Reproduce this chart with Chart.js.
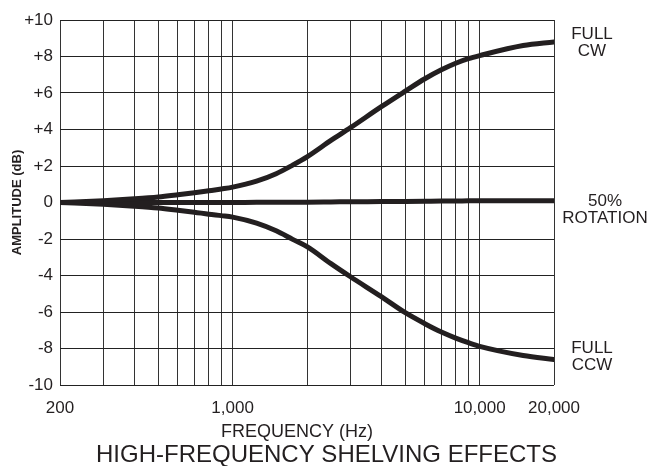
<!DOCTYPE html>
<html lang="en">
  <head>
    <meta charset="UTF-8" />
    <title>High-Frequency Shelving Effects</title>
    <script src="https://cdn.jsdelivr.net/npm/chart.js"></script>
    <style>
      body {
        margin: 0;
        background-color: #ffffff;
      }
      #shelfChart {
        display: block;
      }
    </style>
  </head>
  <body>
    <canvas id="shelfChart" width="653" height="466"></canvas>

    <script>
      // frequencies (Hz) and amplitude readings (dB)
      const freqs = [200, 300, 400, 500, 600, 700, 800, 900, 1000, 1250, 1500, 1750, 2000, 2500, 3000, 4000, 5000, 6000, 7000, 8000, 9000, 10000, 15000, 20000];
      const fullCW = [0, 0.1, 0.2, 0.3, 0.42, 0.53, 0.64, 0.74, 0.84, 1.17, 1.58, 2.05, 2.5, 3.4, 4.1, 5.25, 6.1, 6.78, 7.27, 7.63, 7.88, 8.05, 8.6, 8.8];
      const halfRot = [0, 0, 0, 0, 0, 0, 0, 0, 0, 0.01, 0.01, 0.02, 0.02, 0.03, 0.04, 0.05, 0.06, 0.07, 0.08, 0.08, 0.09, 0.09, 0.1, 0.1];
      const fullCCW = [0, -0.1, -0.2, -0.3, -0.42, -0.53, -0.64, -0.72, -0.8, -1.13, -1.55, -2.02, -2.42, -3.35, -4.07, -5.16, -6.04, -6.64, -7.1, -7.43, -7.68, -7.88, -8.38, -8.6];

      // grid ticks on the frequency axis, and the ones that get a label
      const gridFreqs = [200, 300, 400, 500, 600, 700, 800, 900, 1000, 2000, 3000, 4000, 5000, 6000, 7000, 8000, 9000, 10000, 20000];
      const labeledFreqs = [200, 1000, 10000, 20000];
      const seriesNames = [["FULL", "CW"], ["50%", "ROTATION"], ["FULL", "CCW"]];
      const xTitle = "FREQUENCY (Hz)";
      const chartTitle = "HIGH-FREQUENCY SHELVING EFFECTS";

      const ink = "#231f20";
      const font = "'Liberation Sans', Arial, sans-serif";

      // curve-end labels, axis title and caption under the plot
      const textLayer = {
        id: "textLayer",
        afterDraw(chart) {
          const ctx = chart.ctx;
          const area = chart.chartArea;
          const xOff = [38, 51, 38];
          const yOff = [1, 9, -2.5];
          ctx.save();
          ctx.fillStyle = ink;
          ctx.textAlign = "center";
          ctx.textBaseline = "middle";
          ctx.font = "17px " + font;
          chart.data.datasets.forEach((ds, i) => {
            const meta = chart.getDatasetMeta(i);
            const last = meta.data[meta.data.length - 1];
            const cy = last.y + yOff[i];
            ctx.fillText(seriesNames[i][0], area.right + xOff[i], cy - 8.5);
            ctx.fillText(seriesNames[i][1], area.right + xOff[i], cy + 8.5);
          });
          ctx.font = "18px " + font;
          ctx.fillText(xTitle, (area.left + area.right) / 2 - 10, area.bottom + 47);
          ctx.font = "24px " + font;
          ctx.fillText(chartTitle, chart.width / 2, area.bottom + 70);
          ctx.restore();
        },
      };

      function lineSet(values) {
        return {
          data: freqs.map((f, i) => ({ x: f, y: values[i] })),
          borderColor: ink,
          borderWidth: 5,
          pointRadius: 0,
          cubicInterpolationMode: "monotone",
          borderCapStyle: "round",
          fill: false,
        };
      }

      const ctx = document.getElementById("shelfChart").getContext("2d");
      new Chart(ctx, {
        type: "line",
        data: {
          datasets: [lineSet(fullCW), lineSet(halfRot), lineSet(fullCCW)],
        },
        options: {
          responsive: false,
          animation: false,
          layout: { padding: { top: 20, right: 99, left: 0, bottom: 0 } },
          plugins: {
            legend: { display: false },
            tooltip: { enabled: false },
          },
          scales: {
            x: {
              type: "logarithmic",
              min: 200,
              max: 20000,
              afterBuildTicks(scale) {
                scale.ticks = gridFreqs.map((v) => ({ value: v }));
              },
              afterFit(scale) {
                scale.height = 81;
              },
              ticks: {
                autoSkip: false,
                maxRotation: 0,
                padding: 13,
                color: ink,
                font: { family: font, size: 17 },
                callback: (v) => (labeledFreqs.includes(v) ? v.toLocaleString("en-US") : ""),
              },
              grid: { color: "#333333", lineWidth: 1, drawTicks: false },
              border: { display: false },
            },
            y: {
              min: -10,
              max: 10,
              afterFit(scale) {
                scale.width = 60;
              },
              ticks: {
                stepSize: 2,
                padding: 7,
                color: ink,
                font: { family: font, size: 17 },
                callback: (v) => (v > 0 ? "+" + v : v),
              },
              grid: { color: "#222222", lineWidth: 1, drawTicks: false },
              border: { display: false },
              title: {
                display: true,
                text: "AMPLITUDE (dB)",
                color: ink,
                font: { family: font, size: 13, weight: "bold" },
                padding: { top: 10, bottom: 0 },
              },
            },
          },
        },
        plugins: [textLayer],
      });
    </script>
  </body>
</html>
